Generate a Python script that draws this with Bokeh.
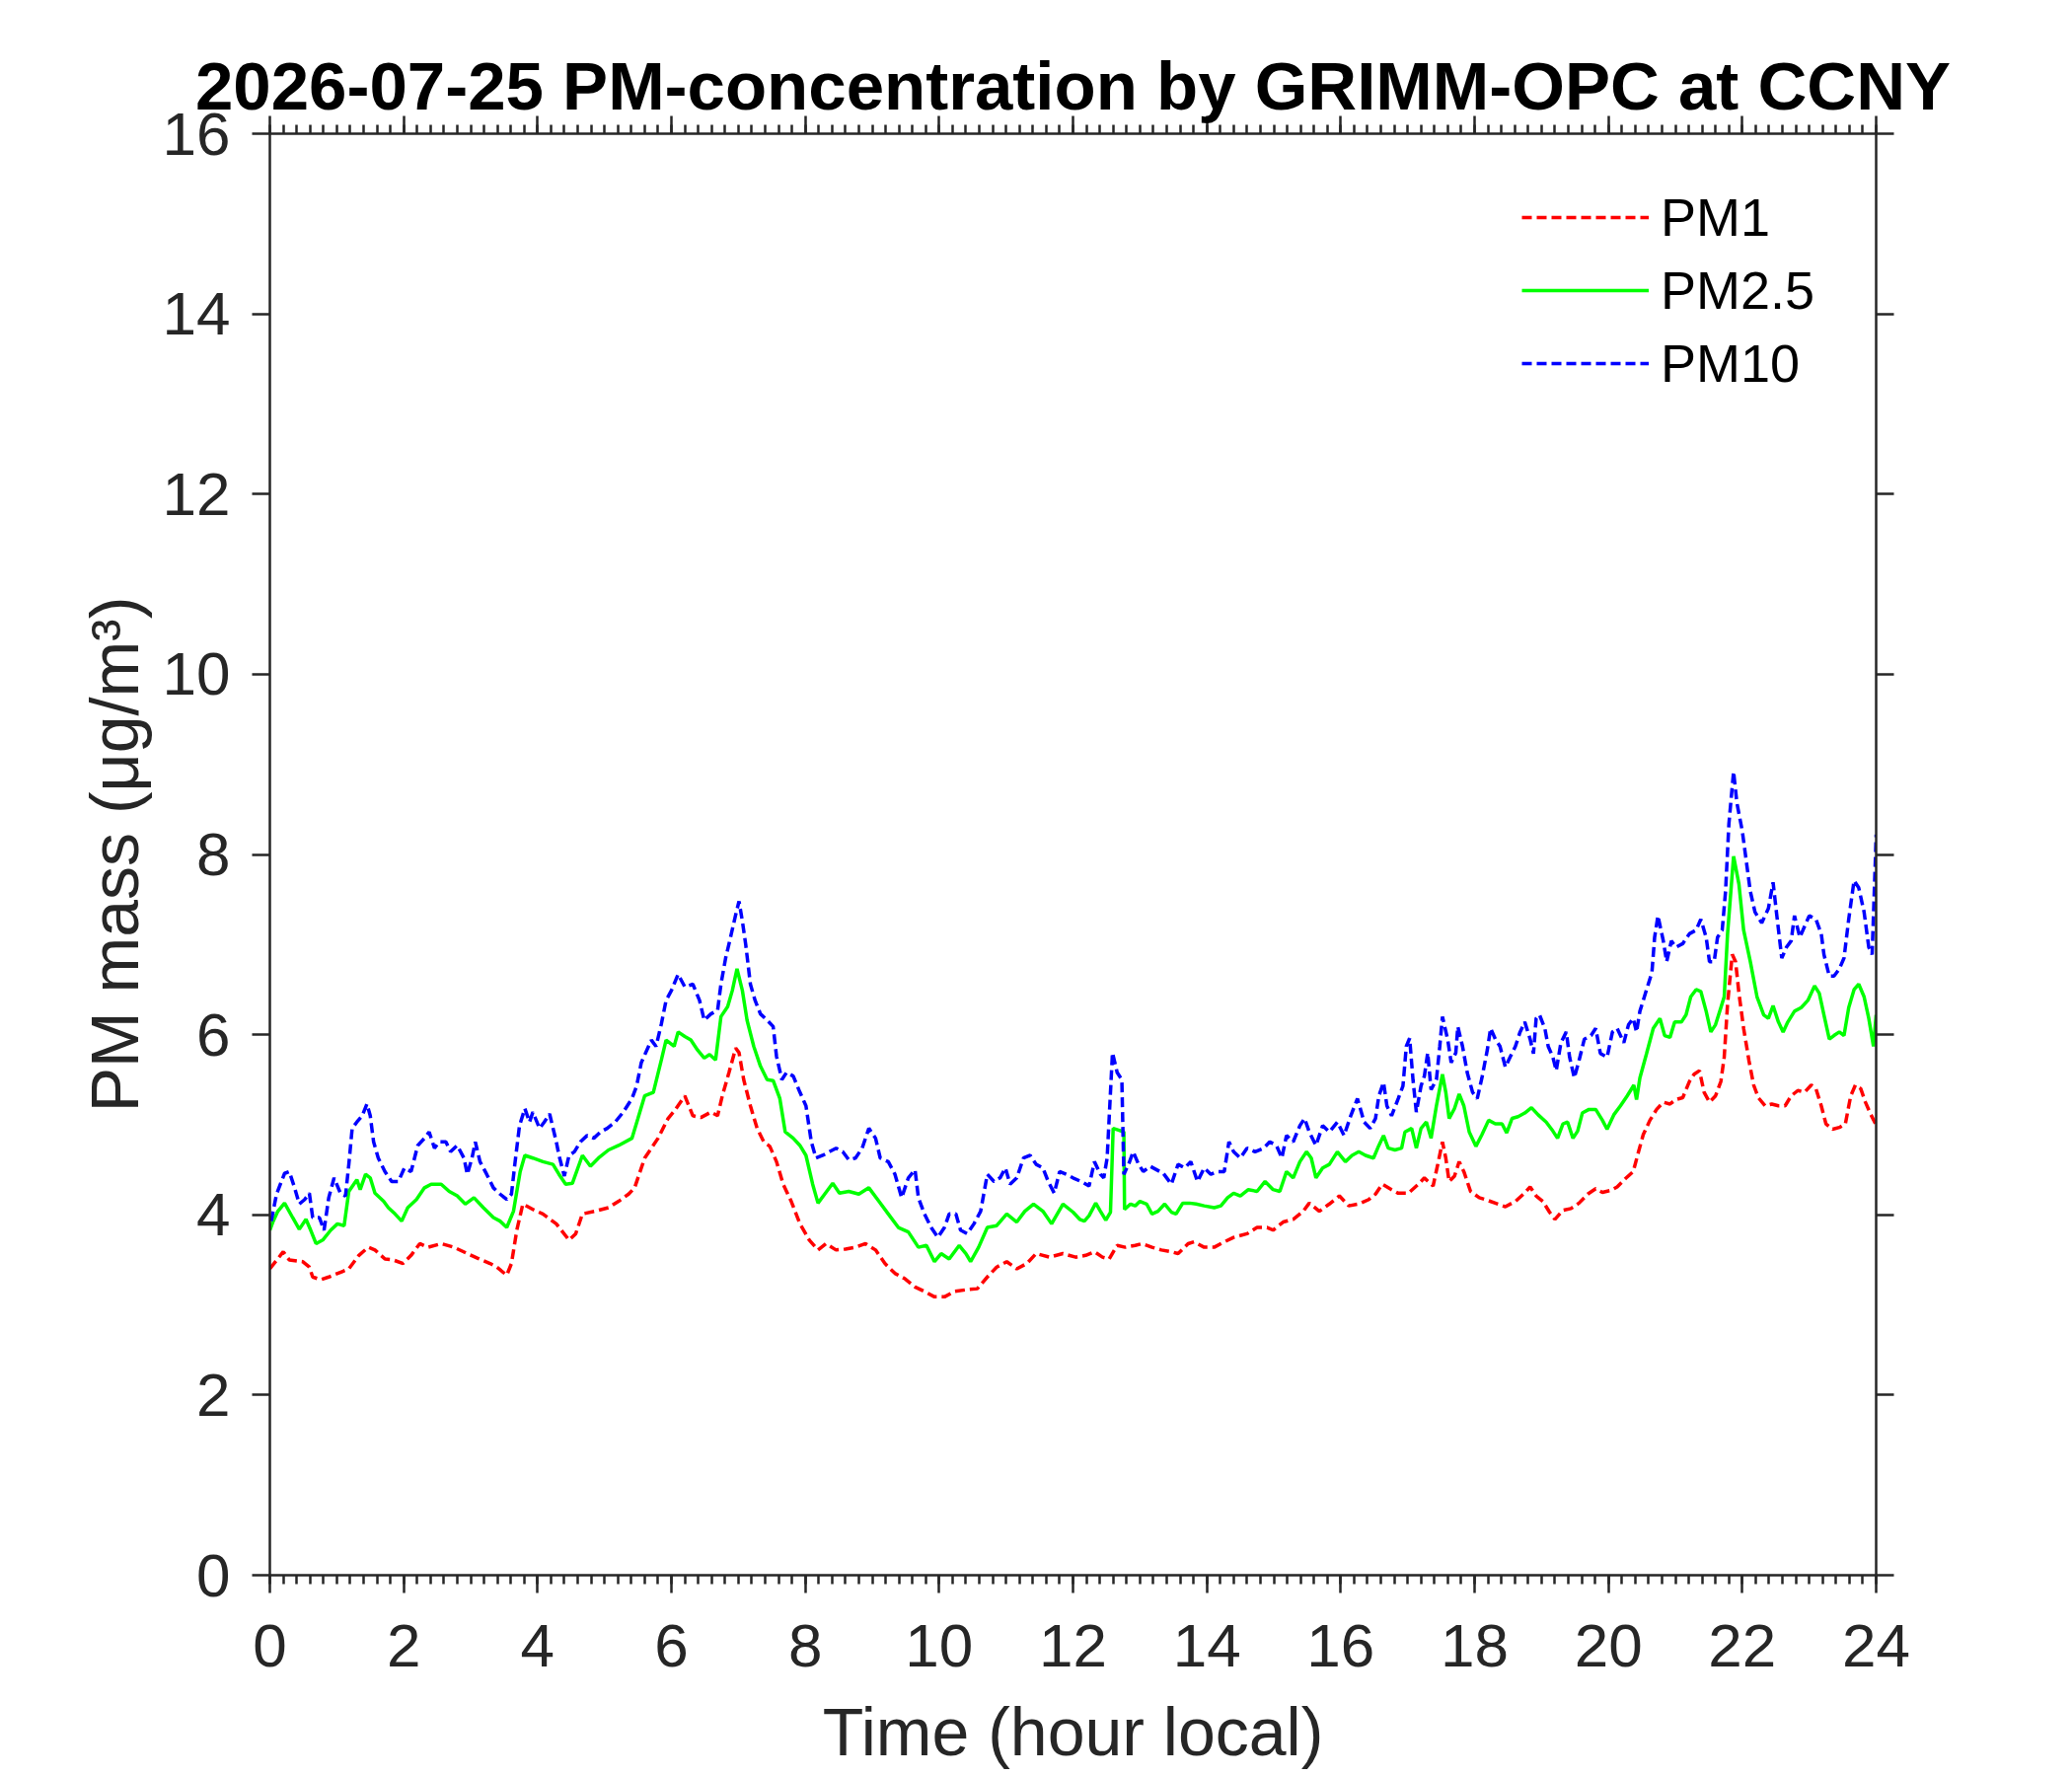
from bokeh.plotting import figure
from bokeh.models import (Range1d, LinearAxis, SingleIntervalTicker, Legend, LegendItem,
                          Title, ColumnDataSource, CustomJSTickFormatter)
from bokeh.embed import file_html
from bokeh.resources import INLINE

title_text = "2026-07-25 PM-concentration by GRIMM-OPC at CCNY"
x_label = "Time (hour local)"
y_label = "PM mass (\u03bcg/m\u00b3)"
series_names = ["PM1", "PM2.5", "PM10"]

pm1_hours = [0.00, 0.20, 0.29, 0.49, 0.59, 0.64, 0.76, 0.88, 1.08, 1.18, 1.33, 1.47, 1.57, 1.72, 1.84, 1.99,
             2.11, 2.24, 2.36, 2.56, 2.75, 2.95, 3.10, 3.29, 3.39, 3.54, 3.61, 3.69, 3.78, 3.93, 4.08, 4.28,
             4.47, 4.57, 4.67, 4.86, 5.06, 5.21, 5.36, 5.45, 5.60, 5.80, 5.95, 6.05, 6.20, 6.32, 6.44, 6.59,
             6.69, 6.76, 6.86, 6.96, 7.01, 7.08, 7.18, 7.28, 7.38, 7.47, 7.57, 7.67, 7.79, 7.92, 8.06, 8.19,
             8.31, 8.46, 8.60, 8.75, 8.90, 9.05, 9.19, 9.34, 9.49, 9.64, 9.78, 9.93, 10.08, 10.23, 10.42,
             10.57, 10.72, 10.86, 11.01, 11.16, 11.31, 11.45, 11.65, 11.85, 12.04, 12.19, 12.32, 12.44,
             12.54, 12.66, 12.78, 12.93, 13.03, 13.18, 13.32, 13.47, 13.57, 13.72, 13.81, 13.96, 14.11,
             14.26, 14.40, 14.60, 14.75, 14.90, 14.99, 15.14, 15.29, 15.44, 15.53, 15.68, 15.83, 15.98,
             16.12, 16.27, 16.42, 16.52, 16.62, 16.76, 16.86, 17.01, 17.16, 17.25, 17.38, 17.45, 17.52,
             17.57, 17.62, 17.70, 17.77, 17.84, 17.94, 18.07, 18.16, 18.31, 18.46, 18.61, 18.73, 18.83,
             18.92, 19.02, 19.12, 19.20, 19.32, 19.44, 19.56, 19.69, 19.81, 19.91, 20.03, 20.13, 20.25,
             20.37, 20.45, 20.52, 20.62, 20.72, 20.82, 20.92, 21.01, 21.11, 21.21, 21.28, 21.36, 21.43,
             21.51, 21.60, 21.68, 21.73, 21.78, 21.85, 21.90, 21.95, 22.02, 22.10, 22.17, 22.24, 22.34,
             22.44, 22.54, 22.64, 22.73, 22.83, 22.93, 23.03, 23.10, 23.18, 23.25, 23.35, 23.45, 23.54,
             23.62, 23.69, 23.77, 23.84, 23.91, 23.99]
pm1_values = [3.40, 3.59, 3.50, 3.48, 3.42, 3.31, 3.28, 3.31, 3.37, 3.40, 3.55, 3.64, 3.61, 3.51, 3.50, 3.46,
              3.55, 3.68, 3.64, 3.68, 3.64, 3.57, 3.52, 3.46, 3.42, 3.33, 3.46, 3.83, 4.12, 4.06, 4.01, 3.90,
              3.72, 3.79, 4.01, 4.04, 4.08, 4.15, 4.23, 4.30, 4.63, 4.85, 5.07, 5.16, 5.32, 5.10, 5.08, 5.14,
              5.10, 5.32, 5.58, 5.85, 5.80, 5.50, 5.21, 4.96, 4.81, 4.76, 4.59, 4.34, 4.15, 3.90, 3.72, 3.61,
              3.68, 3.61, 3.62, 3.64, 3.68, 3.61, 3.46, 3.35, 3.29, 3.20, 3.15, 3.09, 3.09, 3.15, 3.17,
              3.18, 3.31, 3.42, 3.48, 3.40, 3.46, 3.57, 3.53, 3.57, 3.53, 3.55, 3.59, 3.53,
              3.51, 3.66, 3.64, 3.66, 3.68, 3.64, 3.61, 3.59, 3.57, 3.68, 3.70, 3.64, 3.64,
              3.70, 3.75, 3.79, 3.86, 3.86, 3.83, 3.92, 3.95, 4.04, 4.13, 4.04, 4.12, 4.21,
              4.10, 4.12, 4.17, 4.23, 4.34, 4.28, 4.24, 4.24, 4.34, 4.41, 4.32, 4.56, 4.81,
              4.63, 4.37, 4.43, 4.59, 4.48, 4.26, 4.19, 4.17, 4.13, 4.09, 4.15, 4.23, 4.31,
              4.21, 4.15, 4.03, 3.95, 4.05, 4.07, 4.13, 4.23, 4.29, 4.25, 4.27, 4.31, 4.40,
              4.48, 4.70, 4.89, 5.05, 5.17, 5.25, 5.23, 5.28, 5.30, 5.48, 5.56, 5.60, 5.36,
              5.25, 5.32, 5.48, 5.75, 6.34, 6.89, 6.81, 6.46, 6.07, 5.71, 5.44, 5.30, 5.21,
              5.23, 5.21, 5.21, 5.32, 5.38, 5.36, 5.44, 5.40, 5.21, 5.01, 4.95, 4.97, 5.01,
              5.32, 5.44, 5.40, 5.25, 5.13, 5.01]

pm25_hours = [0.00, 0.05, 0.12, 0.22, 0.34, 0.44, 0.54, 0.61, 0.69, 0.79, 0.91, 1.01, 1.11, 1.18, 1.30, 1.35,
              1.43, 1.50, 1.57, 1.70, 1.77, 1.87, 1.97, 2.06, 2.19, 2.31, 2.41, 2.56, 2.68, 2.80, 2.92, 3.05,
              3.19, 3.34, 3.44, 3.54, 3.64, 3.74, 3.81, 3.93, 4.08, 4.23, 4.32, 4.42, 4.52, 4.67, 4.79, 4.91,
              5.06, 5.21, 5.41, 5.50, 5.60, 5.73, 5.85, 5.92, 6.04, 6.10, 6.20, 6.29, 6.39, 6.49, 6.57, 6.66,
              6.74, 6.84, 6.91, 6.98, 7.06, 7.13, 7.23, 7.33, 7.43, 7.52, 7.62, 7.70, 7.82, 7.92, 8.01, 8.11,
              8.19, 8.29, 8.41, 8.51, 8.65, 8.80, 8.95, 9.10, 9.24, 9.39, 9.54, 9.69, 9.81, 9.93, 10.03,
              10.15, 10.30, 10.40, 10.47, 10.59, 10.72, 10.86, 11.01, 11.16, 11.28, 11.41, 11.55, 11.68,
              11.85, 12.00, 12.10, 12.17, 12.24, 12.34, 12.41, 12.49, 12.56, 12.60, 12.68, 12.76, 12.77,
              12.86, 12.93, 13.00, 13.10, 13.18, 13.27, 13.37, 13.47, 13.54, 13.64, 13.74, 13.84, 13.96,
              14.11, 14.21, 14.31, 14.40, 14.50, 14.62, 14.75, 14.87, 14.99, 15.09, 15.19, 15.29, 15.39,
              15.49, 15.56, 15.63, 15.73, 15.83, 15.95, 16.07, 16.17, 16.27, 16.37, 16.49, 16.57, 16.64,
              16.71, 16.81, 16.91, 16.96, 17.06, 17.13, 17.20, 17.28, 17.35, 17.43, 17.52, 17.57, 17.62,
              17.70, 17.77, 17.84, 17.92, 18.02, 18.11, 18.21, 18.31, 18.41, 18.48, 18.56, 18.65, 18.75,
              18.85, 18.95, 19.07, 19.17, 19.24, 19.32, 19.39, 19.47, 19.54, 19.61, 19.71, 19.81, 19.91,
              19.98, 20.08, 20.18, 20.28, 20.38, 20.42, 20.47, 20.57, 20.67, 20.77, 20.84, 20.92, 20.99,
              21.09, 21.16, 21.23, 21.31, 21.38, 21.46, 21.53, 21.60, 21.68, 21.73, 21.78, 21.87, 21.95,
              22.02, 22.12, 22.22, 22.32, 22.39, 22.46, 22.54, 22.61, 22.68, 22.78, 22.88, 22.98, 23.08,
              23.15, 23.22, 23.30, 23.37, 23.45, 23.52, 23.59, 23.67, 23.74, 23.82, 23.89, 23.96, 24.00]
pm25_values = [3.83, 3.93, 4.04, 4.13, 3.97, 3.84, 3.95, 3.83, 3.68, 3.72, 3.83, 3.90, 3.88, 4.26, 4.39, 4.28,
               4.45, 4.41, 4.24, 4.15, 4.08, 4.01, 3.93, 4.08, 4.17, 4.30, 4.34, 4.34, 4.26, 4.21, 4.12, 4.19,
               4.08, 3.97, 3.93, 3.86, 4.04, 4.48, 4.66, 4.63, 4.59, 4.56, 4.45, 4.34, 4.35, 4.66, 4.54, 4.63,
               4.72, 4.77, 4.85, 5.07, 5.32, 5.36, 5.72, 5.94, 5.87, 6.03, 5.98, 5.94, 5.83, 5.74, 5.78, 5.72,
               6.20, 6.31, 6.49, 6.73, 6.49, 6.16, 5.87, 5.65, 5.50, 5.49, 5.29, 4.92, 4.85, 4.77, 4.66, 4.34,
               4.13, 4.23, 4.35, 4.24, 4.26, 4.23, 4.30, 4.15, 4.01, 3.86, 3.81, 3.64, 3.66, 3.48, 3.57,
               3.51, 3.66, 3.57, 3.48, 3.64, 3.86, 3.88, 4.01, 3.92, 4.04, 4.12, 4.04, 3.90,
               4.12, 4.03, 3.95, 3.93, 3.99, 4.13, 4.04, 3.94, 4.03, 4.96, 4.94, 4.92, 4.06,
               4.12, 4.10, 4.15, 4.12, 4.01, 4.04, 4.12, 4.03, 4.01, 4.13, 4.13, 4.12, 4.10,
               4.08, 4.10, 4.19, 4.24, 4.21, 4.28, 4.26, 4.37, 4.28, 4.26, 4.48, 4.41, 4.59,
               4.70, 4.63, 4.41, 4.52, 4.56, 4.70, 4.59, 4.66, 4.70, 4.66, 4.63, 4.77, 4.88,
               4.74, 4.72, 4.74, 4.92, 4.96, 4.74, 4.96, 5.03, 4.85, 5.21, 5.56, 5.36, 5.07,
               5.18, 5.34, 5.21, 4.92, 4.76, 4.89, 5.05, 5.01, 5.01, 4.91, 5.07, 5.09, 5.13,
               5.19, 5.11, 5.03, 4.93, 4.85, 5.01, 5.03, 4.85, 4.93, 5.13, 5.17, 5.17, 5.05,
               4.95, 5.11, 5.21, 5.32, 5.44, 5.28, 5.52, 5.79, 6.07, 6.18, 5.99, 5.97, 6.14,
               6.14, 6.22, 6.42, 6.50, 6.48, 6.26, 6.03, 6.11, 6.30, 6.42, 7.12, 7.98, 7.67,
               7.16, 6.81, 6.42, 6.22, 6.18, 6.32, 6.14, 6.03, 6.14, 6.26, 6.30, 6.38, 6.54,
               6.46, 6.22, 5.95, 5.99, 6.03, 5.99, 6.30, 6.50, 6.56, 6.42, 6.18, 5.87, 6.22]

pm10_hours = [0.02, 0.10, 0.22, 0.29, 0.37, 0.44, 0.52, 0.59, 0.64, 0.74, 0.81, 0.88, 0.96, 1.06, 1.13, 1.18,
              1.23, 1.30, 1.38, 1.45, 1.50, 1.55, 1.62, 1.72, 1.82, 1.92, 2.01, 2.11, 2.21, 2.31, 2.38, 2.46,
              2.53, 2.63, 2.70, 2.80, 2.90, 2.95, 3.02, 3.07, 3.14, 3.24, 3.34, 3.44, 3.54, 3.61, 3.66, 3.73,
              3.81, 3.88, 3.93, 4.03, 4.10, 4.18, 4.28, 4.32, 4.40, 4.47, 4.55, 4.64, 4.74, 4.84, 4.94, 5.04,
              5.16, 5.28, 5.41, 5.48, 5.55, 5.70, 5.77, 5.85, 5.92, 6.00, 6.10, 6.20, 6.32, 6.42, 6.49, 6.59,
              6.69, 6.74, 6.81, 6.88, 6.96, 7.01, 7.06, 7.11, 7.18, 7.25, 7.33, 7.43, 7.52, 7.57, 7.65, 7.72,
              7.82, 7.92, 8.01, 8.09, 8.16, 8.26, 8.36, 8.46, 8.56, 8.65, 8.75, 8.85, 8.95, 9.05, 9.12, 9.24,
              9.34, 9.44, 9.54, 9.64, 9.69, 9.78, 9.88, 9.98, 10.08, 10.15, 10.25, 10.32, 10.42, 10.52,
              10.62, 10.72, 10.82, 10.91, 10.99, 11.06, 11.16, 11.26, 11.36, 11.45, 11.55, 11.63, 11.72,
              11.80, 11.90, 12.00, 12.12, 12.24, 12.32, 12.41, 12.46, 12.51, 12.59, 12.66, 12.73, 12.76,
              12.83, 12.90, 12.98, 13.05, 13.15, 13.25, 13.35, 13.47, 13.57, 13.67, 13.76, 13.86, 13.96,
              14.06, 14.16, 14.26, 14.33, 14.40, 14.50, 14.60, 14.72, 14.85, 14.94, 15.04, 15.12, 15.19,
              15.29, 15.39, 15.46, 15.53, 15.63, 15.73, 15.83, 15.95, 16.05, 16.15, 16.25, 16.35, 16.44,
              16.52, 16.57, 16.64, 16.69, 16.76, 16.86, 16.93, 16.98, 17.03, 17.08, 17.13, 17.20, 17.25,
              17.30, 17.35, 17.43, 17.48, 17.52, 17.60, 17.65, 17.72, 17.75, 17.82, 17.89, 17.97, 18.04,
              18.11, 18.19, 18.24, 18.31, 18.38, 18.46, 18.53, 18.61, 18.68, 18.75, 18.83, 18.88, 18.92,
              18.97, 19.05, 19.10, 19.17, 19.22, 19.29, 19.37, 19.42, 19.49, 19.56, 19.64, 19.74, 19.81,
              19.88, 19.98, 20.06, 20.13, 20.23, 20.30, 20.37, 20.42, 20.47, 20.57, 20.65, 20.69, 20.74,
              20.82, 20.87, 20.94, 21.01, 21.11, 21.21, 21.31, 21.38, 21.46, 21.51, 21.58, 21.63, 21.70,
              21.75, 21.80, 21.87, 21.92, 22.00, 22.05, 22.12, 22.19, 22.29, 22.39, 22.46, 22.51, 22.59,
              22.66, 22.73, 22.78, 22.86, 22.93, 23.00, 23.10, 23.18, 23.22, 23.30, 23.37, 23.45, 23.52,
              23.59, 23.67, 23.74, 23.82, 23.89, 23.94, 23.99, 24.00]
pm10_values = [3.93, 4.23, 4.46, 4.48, 4.30, 4.12, 4.17, 4.24, 3.97, 3.97, 3.83, 4.19, 4.41, 4.23, 4.21, 4.56,
               4.96, 5.03, 5.10, 5.23, 5.10, 4.81, 4.63, 4.48, 4.37, 4.37, 4.52, 4.48, 4.77, 4.85, 4.92, 4.74,
               4.81, 4.81, 4.70, 4.77, 4.63, 4.45, 4.63, 4.81, 4.59, 4.45, 4.30, 4.23, 4.17, 4.23, 4.56, 4.99,
               5.18, 5.03, 5.14, 4.96, 5.03, 5.12, 4.81, 4.66, 4.43, 4.66, 4.70, 4.81, 4.88, 4.85, 4.92, 4.96,
               5.03, 5.14, 5.29, 5.43, 5.69, 5.94, 5.87, 6.12, 6.38, 6.49, 6.67, 6.53, 6.56, 6.38, 6.16, 6.23,
               6.27, 6.56, 6.85, 7.07, 7.33, 7.48, 7.26, 7.00, 6.56, 6.38, 6.23, 6.16, 6.09, 5.76, 5.50, 5.58,
               5.54, 5.36, 5.21, 4.81, 4.63, 4.66, 4.70, 4.74, 4.70, 4.61, 4.63, 4.74, 4.96, 4.85, 4.63, 4.59,
               4.45, 4.19, 4.41, 4.50, 4.19, 4.01, 3.86, 3.75, 3.86, 4.01, 4.01, 3.83, 3.79, 3.90,
               4.04, 4.45, 4.37, 4.41, 4.52, 4.34, 4.41, 4.63, 4.66, 4.56, 4.52, 4.37, 4.24,
               4.48, 4.45, 4.41, 4.37, 4.32, 4.59, 4.45, 4.41, 4.63, 5.80, 5.58, 5.50, 4.45,
               4.56, 4.70, 4.56, 4.48, 4.54, 4.50, 4.46, 4.34, 4.56, 4.52, 4.59, 4.37, 4.52,
               4.45, 4.48, 4.48, 4.81, 4.70, 4.63, 4.74, 4.70, 4.74, 4.81, 4.77, 4.63, 4.88,
               4.81, 4.99, 5.07, 4.92, 4.77, 4.99, 4.92, 5.03, 4.88, 5.10, 5.29, 5.03, 4.96,
               5.07, 5.32, 5.47, 5.21, 5.10, 5.29, 5.43, 5.87, 5.96, 5.50, 5.14, 5.43, 5.54,
               5.80, 5.39, 5.50, 5.87, 6.20, 5.94, 5.69, 5.80, 6.09, 5.87, 5.58, 5.36, 5.29,
               5.52, 5.83, 6.07, 5.95, 5.87, 5.64, 5.75, 5.87, 6.03, 6.14, 5.95, 5.79, 6.18,
               6.22, 6.07, 5.87, 5.75, 5.60, 5.91, 6.03, 5.75, 5.52, 5.71, 5.95, 5.99, 6.07,
               5.79, 5.75, 6.03, 6.07, 5.91, 6.11, 6.18, 6.03, 6.26, 6.50, 6.69, 7.08, 7.32,
               7.04, 6.81, 7.04, 6.97, 7.01, 7.12, 7.16, 7.28, 7.08, 6.81, 6.81, 7.08, 7.16,
               7.59, 8.34, 8.92, 8.57, 8.26, 7.98, 7.59, 7.36, 7.24, 7.40, 7.69, 7.36, 6.85,
               6.97, 7.04, 7.32, 7.08, 7.20, 7.32, 7.28, 7.12, 6.89, 6.65, 6.65, 6.73, 6.85,
               7.28, 7.71, 7.63, 7.36, 6.97, 6.89, 7.98, 8.22]

AX = "#262626"
FONT = "Liberation Sans"

p = figure(frame_width=1628, frame_height=1461,
           min_border_left=273, min_border_right=199, min_border_top=135, min_border_bottom=204,
           x_range=Range1d(0, 24), y_range=Range1d(0, 16),
           output_backend="svg", toolbar_location=None, title=None)
p.outline_line_color = None
p.xgrid.visible = False
p.ygrid.visible = False
p.background_fill_color = "white"
p.border_fill_color = "white"

src1 = ColumnDataSource(dict(x=pm1_hours, y=pm1_values))
src25 = ColumnDataSource(dict(x=pm25_hours, y=pm25_values))
src10 = ColumnDataSource(dict(x=pm10_hours, y=pm10_values))

r1 = p.line("x", "y", source=src1, line_color="#FF0000", line_width=3.5, line_dash="10 5")
r25 = p.line("x", "y", source=src25, line_color="#00FF00", line_width=3.5)
r10 = p.line("x", "y", source=src10, line_color="#0000FF", line_width=3.5, line_dash="10 5")


def style_axis(ax, labels=True):
    ax.axis_line_color = AX
    ax.axis_line_width = 2.5
    ax.major_tick_line_color = AX
    ax.major_tick_line_width = 2.5
    ax.major_tick_out = 18
    ax.major_tick_in = 0
    ax.minor_tick_line_color = AX
    ax.minor_tick_line_width = 2.5
    ax.minor_tick_out = 9
    ax.minor_tick_in = 0
    ax.major_label_text_font = FONT
    ax.major_label_text_color = AX
    if labels:
        ax.major_label_text_font_size = "62px"
        ax.major_label_standoff = 22
    else:
        ax.formatter = CustomJSTickFormatter(code="return ''")
        ax.major_label_text_font_size = "1px"
        ax.major_label_standoff = 0


xb = p.xaxis[0]
yl = p.yaxis[0]
xb.ticker = SingleIntervalTicker(interval=2, num_minor_ticks=10)
yl.ticker = SingleIntervalTicker(interval=2, num_minor_ticks=0)
style_axis(xb)
style_axis(yl)
xb.major_label_standoff = 32
yl.minor_tick_line_color = None
xb.axis_label = x_label
yl.axis_label = y_label
for ax in (xb, yl):
    ax.axis_label_text_font = FONT
    ax.axis_label_text_font_size = "68px"
    ax.axis_label_text_font_style = "normal"
    ax.axis_label_text_color = AX
xb.axis_label_standoff = 25
yl.axis_label_standoff = 8

xt = LinearAxis(ticker=SingleIntervalTicker(interval=2, num_minor_ticks=10))
style_axis(xt, labels=False)
p.add_layout(xt, "above")

yr = LinearAxis(ticker=SingleIntervalTicker(interval=2, num_minor_ticks=0))
style_axis(yr, labels=False)
yr.minor_tick_line_color = None
p.add_layout(yr, "right")

t = Title(text=title_text, align="center", text_font=FONT, text_font_size="69px",
          text_font_style="bold", text_color="black", standoff=-16)
p.add_layout(t, "above")

legend = Legend(items=[LegendItem(label=series_names[0], renderers=[r1]),
                       LegendItem(label=series_names[1], renderers=[r25]),
                       LegendItem(label=series_names[2], renderers=[r10])],
                location=(1269, 1191), glyph_width=129, glyph_height=74, label_height=74,
                label_standoff=12, spacing=0, padding=0, margin=0,
                border_line_color=None, background_fill_alpha=0,
                label_text_font=FONT, label_text_font_size="54px", label_text_color="black")
p.add_layout(legend)

open("out.html", "w").write(file_html(p, INLINE))
